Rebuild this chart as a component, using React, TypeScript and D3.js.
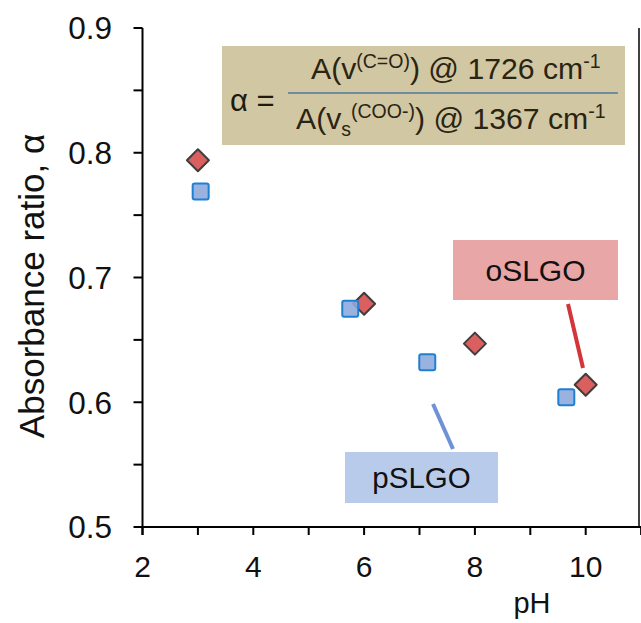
import React from "react";
import * as d3 from "d3";

const W = 641;
const H = 623;

const oSLGO_pH = [3, 6, 8, 10];
const oSLGO_alpha = [0.794, 0.679, 0.647, 0.614];
const pSLGO_pH = [3.05, 5.75, 7.14, 9.65];
const pSLGO_alpha = [0.769, 0.675, 0.632, 0.604];
const xTicks = [2, 3, 4, 5, 6, 7, 8, 9, 10, 11];
const xLabels = [2, 4, 6, 8, 10];
const yTicks = [0.5, 0.55, 0.6, 0.65, 0.7, 0.75, 0.8, 0.85, 0.9];
const yLabels = [0.5, 0.6, 0.7, 0.8, 0.9];

const FONT = "'Liberation Sans', Arial, sans-serif";

export default function App() {
  const x = d3.scaleLinear().domain([2, 11]).range([142.5, 641.1]);
  const y = d3.scaleLinear().domain([0.5, 0.9]).range([527, 28]);
  const fmt = d3.format(".1f");
  const dia = 11;
  const sq = 16;

  return (
    <div style={{ position: "fixed", left: 0, top: 0 }}>
      <svg width={W} height={H} style={{ display: "block", background: "#fff" }} fontFamily={FONT}>
        {/* formula box */}
        <rect x={222} y={46} width={403} height={99} fill="#d2c7a3" />
        <text x={230} y={111} fontSize={31} fill="#1e1a10">α =</text>
        <line x1={288} x2={618} y1={93} y2={93} stroke="#6f8d9e" strokeWidth={2} />
        <text x={311} y={79} fontSize={30.2} fill="#2a2412">
          <tspan>A(v</tspan>
          <tspan dy={-11} fontSize={19.5}>(C=O)</tspan>
          <tspan dy={11}>) @ 1726 cm</tspan>
          <tspan dy={-11} fontSize={19.5}>-1</tspan>
        </text>
        <text x={296} y={129} fontSize={30.2} fill="#2a2412">
          <tspan>A(v</tspan>
          <tspan dy={7} fontSize={19.5}>s</tspan>
          <tspan dy={-18} fontSize={19.5}>(COO-)</tspan>
          <tspan dy={11}>) @ 1367 cm</tspan>
          <tspan dy={-11} fontSize={19.5}>-1</tspan>
        </text>

        {/* label boxes and leader lines */}
        <rect x={453} y={240} width={165} height={60} fill="#e9a6a6" />
        <text x={535.5} y={281} fontSize={30} textAnchor="middle" fill="#111">oSLGO</text>
        <line x1={568} y1={304} x2={583} y2={368} stroke="#d2363a" strokeWidth={4} />

        <rect x={345} y={452} width={153} height={51} fill="#b9cbea" />
        <text x={421.5} y={488} fontSize={29.5} textAnchor="middle" fill="#111">pSLGO</text>
        <line x1={433} y1={404} x2={453} y2={449} stroke="#6f91d6" strokeWidth={4} />

        {/* axes */}
        <line x1={x(2)} x2={W} y1={y(0.5)} y2={y(0.5)} stroke="#000" strokeWidth={2} />
        <line x1={x(2)} x2={x(2)} y1={y(0.9)} y2={y(0.5) + 8} stroke="#000" strokeWidth={2} />
        <line x1={639} x2={639} y1={y(0.9)} y2={y(0.5)} stroke="#000" strokeWidth={1.5} />
        {xTicks.map((t) => (
          <line key={"xt" + t} x1={x(t)} x2={x(t)} y1={y(0.5)} y2={y(0.5) + 8} stroke="#000" strokeWidth={2} />
        ))}
        {xLabels.map((t) => (
          <text key={"xl" + t} x={x(t)} y={577} fontSize={30} textAnchor="middle" fill="#111">{t}</text>
        ))}
        <text x={532} y={613} fontSize={29} textAnchor="middle" fill="#111">pH</text>
        {yTicks.map((t) => (
          <line key={"yt" + t} x1={x(2) - 9} x2={x(2)} y1={y(t)} y2={y(t)} stroke="#000" strokeWidth={2} />
        ))}
        {yLabels.map((t) => (
          <text key={"yl" + t} x={112} y={y(t) + 11.3} fontSize={31.5} textAnchor="end" fill="#111">{fmt(t)}</text>
        ))}
        <text transform={`translate(44,286) rotate(-90)`} fontSize={35} textAnchor="middle" fill="#111">Absorbance ratio, α</text>

        {/* oSLGO diamonds */}
        {oSLGO_pH.map((p, i) => {
          const cx = x(p);
          const cy = y(oSLGO_alpha[i]);
          return (
            <path key={"d" + i}
              d={`M${cx},${cy - dia}L${cx + dia},${cy}L${cx},${cy + dia}L${cx - dia},${cy}Z`}
              fill="#d9605f" stroke="#3e3e3e" strokeWidth={2} strokeLinejoin="round" />
          );
        })}
        {/* pSLGO squares */}
        {pSLGO_pH.map((p, i) => {
          const cx = x(p);
          const cy = y(pSLGO_alpha[i]);
          return (
            <rect key={"s" + i} x={cx - sq / 2} y={cy - sq / 2} width={sq} height={sq} rx={2}
              fill="#8eaadc" fillOpacity={0.9} stroke="#1f7fd3" strokeWidth={2} />
          );
        })}
      </svg>
    </div>
  );
}
